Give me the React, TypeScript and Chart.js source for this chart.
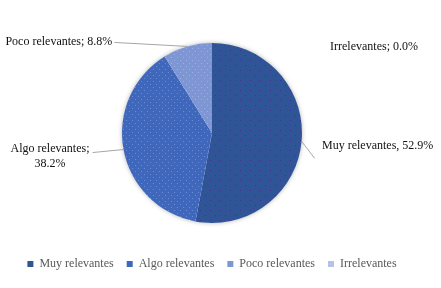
import React, { useEffect, useRef } from "react";
import { Chart, registerables } from "chart.js";

Chart.register(...registerables);

const categories = ["Muy relevantes", "Algo relevantes", "Poco relevantes", "Irrelevantes"];
const counts = [18, 13, 3, 0];
const percentLabels = ["52.9%", "38.2%", "8.8%", "0.0%"];
const baseColors = ["#2F5597", "#3F68BC", "#7F96D4", "#B4C2E6"];
const dotColors = ["#40309A", "#6A8CD6", "#9CB0E6", "#C8D3EF"];

function makePattern(base: string, dot: string, step: number) {
  const c = document.createElement("canvas");
  c.width = step * 2;
  c.height = step * 2;
  const g = c.getContext("2d")!;
  g.fillStyle = base;
  g.fillRect(0, 0, c.width, c.height);
  g.fillStyle = dot;
  g.fillRect(0, 0, 1, 1);
  g.fillRect(step, step, 1, 1);
  const ctx = document.createElement("canvas").getContext("2d")!;
  return ctx.createPattern(c, "repeat")!;
}

const FONT = "'Liberation Serif', 'Times New Roman', serif";

const labelPlugin = {
  id: "pieLabels",
  beforeDatasetsDraw(chart: any) {
    const meta = chart.getDatasetMeta(0);
    const arc = meta.data[0];
    if (!arc) return;
    const { ctx } = chart;
    ctx.save();
    ctx.shadowColor = "rgba(0,0,0,0.35)";
    ctx.shadowBlur = 5;
    ctx.fillStyle = "#ffffff";
    ctx.beginPath();
    ctx.arc(arc.x, arc.y, arc.outerRadius - 0.5, 0, Math.PI * 2);
    ctx.fill();
    ctx.restore();
  },
  afterDatasetsDraw(chart: any) {
    const meta = chart.getDatasetMeta(0);
    const { ctx } = chart;
    ctx.save();
    ctx.font = `12px ${FONT}`;
    ctx.fillStyle = "#111111";
    ctx.strokeStyle = "#A6A6A6";
    ctx.lineWidth = 1;
    const edge = (i: number) => {
      const a = meta.data[i];
      const mid = (a.startAngle + a.endAngle) / 2;
      return { x: a.x + Math.cos(mid) * a.outerRadius, y: a.y + Math.sin(mid) * a.outerRadius, cx: a.x, cy: a.y, r: a.outerRadius };
    };
    const line = (x1: number, y1: number, x2: number, y2: number) => {
      ctx.beginPath();
      ctx.moveTo(x1, y1);
      ctx.lineTo(x2, y2);
      ctx.stroke();
    };
    ctx.textBaseline = "middle";
    // Muy relevantes
    const e0 = edge(0);
    line(e0.x, e0.y, e0.x + 13, e0.y + 17);
    ctx.textAlign = "left";
    ctx.fillText(`${categories[0]}, ${percentLabels[0]}`, e0.cx + e0.r + 20, e0.cy + 13);
    // Algo relevantes
    const e1 = edge(1);
    line(e1.x, e1.y, e1.x - 31, e1.y + 3);
    ctx.textAlign = "center";
    ctx.fillText(`${categories[1]};`, e1.cx - e1.r - 72, e1.cy + 16);
    ctx.fillText(percentLabels[1], e1.cx - e1.r - 72, e1.cy + 31);
    // Poco relevantes
    const e2 = edge(2);
    line(e2.x, e2.y, e2.x - 73, e2.y - 4);
    ctx.textAlign = "right";
    ctx.fillText(`${categories[2]}; ${percentLabels[2]}`, e2.x - 75, e2.y - 5);
    // Irrelevantes
    ctx.textAlign = "left";
    ctx.fillText(`${categories[3]}; ${percentLabels[3]}`, e0.cx + e0.r + 28, e0.cy - 86);
    ctx.restore();
  },
};

export default function App() {
  const ref = useRef<HTMLCanvasElement>(null);
  useEffect(() => {
    if (!ref.current) return;
    const patterns = baseColors.map((b, i) => makePattern(b, dotColors[i], i === 0 ? 5 : 3));
    const chart = new Chart(ref.current, {
      type: "pie",
      data: {
        labels: categories,
        datasets: [
          {
            data: counts,
            backgroundColor: patterns,
            borderWidth: 0,
            radius: 90,
          } as any,
        ],
      },
      options: {
        responsive: false,
        animation: false,
        layout: { padding: { top: 21, bottom: 8, left: 0, right: 17 } },
        plugins: {
          tooltip: { enabled: false },
          legend: {
            display: true,
            position: "bottom",
            labels: {
              boxWidth: 6,
              boxHeight: 6,
              padding: 13,
              color: "#595959",
              font: { family: FONT, size: 12 },
              generateLabels: (ch: any) =>
                categories.map((c, i) => ({
                  text: c,
                  fillStyle: baseColors[i],
                  strokeStyle: baseColors[i],
                  lineWidth: 0,
                  hidden: false,
                  index: i,
                  fontColor: "#595959",
                })),
            },
          },
        },
      },
      plugins: [labelPlugin],
    });
    return () => chart.destroy();
  }, []);
  return (
    <div style={{ position: "fixed", left: 0, top: 0, width: 441, height: 288, background: "#fff" }}>
      <canvas ref={ref} width={441} height={288} style={{ width: 441, height: 288, display: "block" }} />
    </div>
  );
}
